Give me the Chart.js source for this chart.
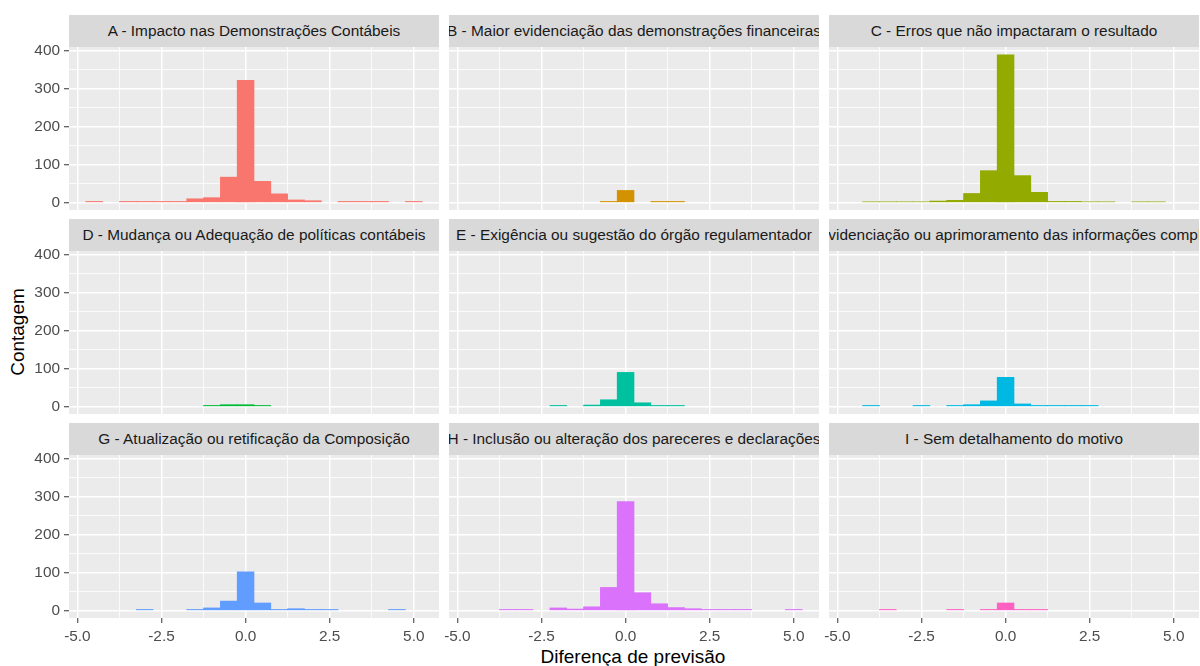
<!DOCTYPE html>
<html>
<head>
<meta charset="utf-8">
<script src="https://cdn.jsdelivr.net/npm/chart.js@4.4.1/dist/chart.umd.min.js"></script>
<style>
  body { margin: 0; background: #fff; font-family: "Liberation Sans", Arial, sans-serif; }
  #wrap { position: relative; width: 1200px; height: 666px; overflow: hidden; background: #fff; }
  .box { position: absolute; }
  .strip { position: absolute; background: #d9d9d9; overflow: hidden; }
  .strip span { position: absolute; left: 50%; top: 50%; transform: translate(-50%, -50%);
    white-space: nowrap; font-size: 15.4px; color: #1a1a1a; }
  #ytitle { position: absolute; left: 18px; top: 332px; transform: translate(-50%, -50%) rotate(-90deg);
    font-size: 19px; color: #000; white-space: nowrap; }
  #xtitle { position: absolute; left: 633px; top: 657px; transform: translate(-50%, -50%);
    font-size: 19px; color: #000; white-space: nowrap; }
</style>
</head>
<body>
<div id="wrap">
  <div id="ytitle">Contagem</div>
  <div id="xtitle">Diferença de previsão</div>
</div>
<script>
// histogram bins (width 0.5)
const binCenters = [-4.5, -4, -3.5, -3, -2.5, -2, -1.5, -1, -0.5, 0, 0.5, 1, 1.5, 2, 2.5, 3, 3.5, 4, 4.5, 5];

const countsA = [3, 0, 3, 3, 3, 3, 10, 13, 67, 322, 56, 23, 7, 5, 0, 3, 3, 3, 0, 3];
const countsB = [0, 0, 0, 0, 0, 0, 0, 0, 3, 32, 0, 3, 3, 0, 0, 0, 0, 0, 0, 0];
const countsC = [0, 2, 2, 2, 2, 4, 6, 24, 84, 389, 71, 27, 3, 3, 2, 2, 0, 2, 2, 0];
const countsD = [0, 0, 0, 0, 0, 0, 0, 3, 5, 5, 3, 0, 0, 0, 0, 0, 0, 0, 0, 0];
const countsE = [0, 0, 0, 0, 0, 3, 0, 4, 18, 90, 10, 3, 3, 0, 0, 0, 0, 0, 0, 0];
const countsF = [0, 3, 0, 0, 3, 0, 3, 5, 15, 77, 7, 3, 3, 3, 3, 0, 0, 0, 0, 0];
const countsG = [0, 0, 0, 3, 0, 0, 3, 7, 25, 102, 20, 3, 5, 3, 3, 0, 0, 0, 3, 0];
const countsH = [0, 0, 3, 3, 0, 7, 4, 10, 61, 287, 47, 18, 8, 5, 3, 3, 3, 0, 0, 3];
const countsI = [0, 0, 3, 0, 0, 0, 3, 0, 3, 20, 3, 3, 0, 0, 0, 0, 0, 0, 0, 0];

const panelTitles = [
  'A - Impacto nas Demonstrações Contábeis',
  'B - Maior evidenciação das demonstrações financeiras',
  'C - Erros que não impactaram o resultado',
  'D - Mudança ou Adequação de políticas contábeis',
  'E - Exigência ou sugestão do órgão regulamentador',
  'F - Maior evidenciação ou aprimoramento das informações complementares',
  'G - Atualização ou retificação da Composição',
  'H - Inclusão ou alteração dos pareceres e declarações',
  'I - Sem detalhamento do motivo'
];
const panelColors = ['#F8766D', '#D39200', '#93AA00', '#00BA38', '#00C19F', '#00B9E3', '#619CFF', '#DB72FB', '#FF61C3'];
const panelCounts = [countsA, countsB, countsC, countsD, countsE, countsF, countsG, countsH, countsI];

const xTickVals = [-5, -3.75, -2.5, -1.25, 0, 1.25, 2.5, 3.75, 5];
const xMajor = [-5, -2.5, 0, 2.5, 5];
const yTickVals = [0, 50, 100, 150, 200, 250, 300, 350, 400];
const yMajor = [0, 100, 200, 300, 400];

// layout of the facet grid
const colLeft = [69, 449, 829];
const rowTop = [46.5, 250.5, 454.5];
const panelW = 370, panelH = 163, stripH = 31.5;
const PAD = 12;

Chart.defaults.font.family = '"Liberation Sans", Arial, sans-serif';

const panelBg = {
  id: 'panelBg',
  beforeDraw(chart) {
    const a = chart.chartArea, c = chart.ctx;
    c.save();
    c.fillStyle = '#ebebeb';
    c.fillRect(a.left, a.top, a.right - a.left, a.bottom - a.top);
    c.restore();
  }
};

const wrap = document.getElementById('wrap');

panelCounts.forEach((counts, i) => {
  const col = i % 3, row = Math.floor(i / 3);
  const yW = col === 0 ? 40 : 0;
  const xH = row === 2 ? 32 : 0;

  const box = document.createElement('div');
  box.className = 'box';
  box.style.left = (colLeft[col] - yW - PAD) + 'px';
  box.style.top = (rowTop[row] - PAD) + 'px';
  box.style.width = (panelW + yW + 2 * PAD) + 'px';
  box.style.height = (panelH + xH + 2 * PAD) + 'px';
  const cv = document.createElement('canvas');
  box.appendChild(cv);
  wrap.appendChild(box);

  const strip = document.createElement('div');
  strip.className = 'strip';
  strip.style.left = colLeft[col] + 'px';
  strip.style.top = (rowTop[row] - stripH) + 'px';
  strip.style.width = panelW + 'px';
  strip.style.height = stripH + 'px';
  const sp = document.createElement('span');
  sp.textContent = panelTitles[i];
  strip.appendChild(sp);
  wrap.appendChild(strip);

  new Chart(cv, {
    type: 'bar',
    data: {
      datasets: [{
        // empty bins are left out (null) so nothing is drawn there
        data: binCenters.map((x, k) => ({ x: x, y: counts[k] === 0 ? null : counts[k] })),
        backgroundColor: panelColors[i],
        borderWidth: 0,
        barPercentage: 1,
        categoryPercentage: 1
      }]
    },
    options: {
      responsive: true,
      maintainAspectRatio: false,
      animation: false,
      layout: { padding: PAD },
      plugins: { legend: { display: false }, tooltip: { enabled: false } },
      scales: {
        x: {
          type: 'linear',
          min: -5.25,
          max: 5.75,
          offset: false,
          border: { display: false },
          grid: {
            offset: false,
            color: '#ffffff',
            lineWidth: c => xMajor.includes(c.tick.value) ? 1.5 : 0.8,
            drawTicks: row === 2,
            tickLength: 5,
            tickWidth: 1,
            tickColor: c => xMajor.includes(c.tick.value) ? '#333333' : 'rgba(0,0,0,0)'
          },
          ticks: {
            display: row === 2,
            autoSkip: false,
            maxRotation: 0,
            padding: 5,
            color: '#4d4d4d',
            font: { size: 15.4 },
            callback: v => xMajor.includes(v) ? v.toFixed(1) : ''
          },
          afterBuildTicks: s => { s.ticks = xTickVals.map(v => ({ value: v })); },
          afterFit: s => { s.height = xH; s.paddingLeft = 0; s.paddingRight = 0; }
        },
        y: {
          min: -19.5,
          max: 409.5,
          border: { display: false },
          grid: {
            color: '#ffffff',
            lineWidth: c => yMajor.includes(c.tick.value) ? 1.5 : 0.8,
            drawTicks: col === 0,
            tickLength: 5,
            tickWidth: 1,
            tickColor: c => yMajor.includes(c.tick.value) ? '#333333' : 'rgba(0,0,0,0)'
          },
          ticks: {
            display: col === 0,
            autoSkip: false,
            padding: 4,
            color: '#4d4d4d',
            font: { size: 15.4 },
            callback: v => yMajor.includes(v) ? String(v) : ''
          },
          afterBuildTicks: s => { s.ticks = yTickVals.map(v => ({ value: v })); },
          afterFit: s => { s.width = yW; s.paddingTop = 0; s.paddingBottom = 0; }
        }
      }
    },
    plugins: [panelBg]
  });
});
</script>
</body>
</html>
